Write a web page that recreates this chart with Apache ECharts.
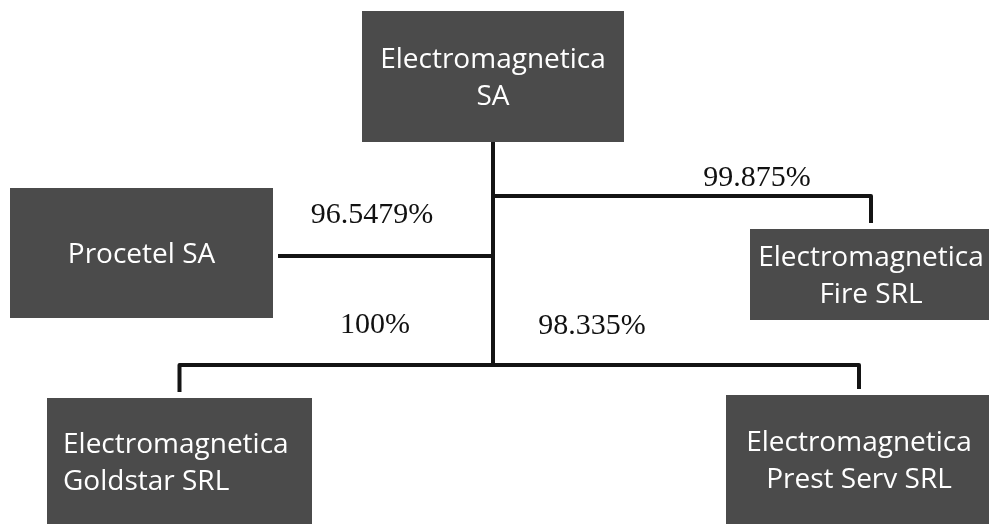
<!DOCTYPE html>
<html>
<head>
<meta charset="utf-8">
<script src="https://cdn.jsdelivr.net/npm/echarts@6/dist/echarts.min.js"></script>
<style>
    html, body { margin: 0; padding: 0; background: #fff; }
    #chart { width: 989px; height: 524px; }
</style>
</head>
<body>
<div id="chart"></div>
<script>
// companies of the group (box labels)
const companies = ['Electromagnetica\nSA', 'Procetel SA', 'Electromagnetica\nFire SRL',
    'Electromagnetica\nGoldstar SRL', 'Electromagnetica\nPrest Serv SRL'];
// parent of each company, -1 for the top one
const parents = [-1, 0, 0, 0, 0];
// holding of the parent in each company
const stakes = [null, '96.5479%', '99.875%', '100%', '98.335%'];

// layout, in chart units (1 unit = 1px)
const boxLeft = [362, 10, 750, 47, 726];
const boxTop = [11, 188, 229, 398, 395];
const boxWidth = [262, 263, 242, 265, 266];
const boxHeight = [131, 130, 91, 127, 130];
const textAlign = ['center', 'center', 'center', 'left', 'center'];
const branchY = [null, null, 196, 365, 365];   // null = joins the trunk from the side
const stakeX = [null, 372, 757, 375, 592];
const stakeY = [null, 215, 178, 325, 326];

window.onload = function () {
    const chart = echarts.init(document.getElementById('chart'));

    const boxes = companies.map(function (name, i) {
        return [boxLeft[i], boxTop[i], boxWidth[i], boxHeight[i], i];
    });

    // connectors: trunk down from the parent, then one branch for each child
    const links = [];
    let trunkEnd = 0;
    companies.forEach(function (name, i) {
        const p = parents[i];
        if (p < 0) return;
        const trunkX = boxLeft[p] + boxWidth[p] / 2;
        const cx = boxLeft[i] + boxWidth[i] / 2;
        if (branchY[i] === null) {
            const cy = boxTop[i] + boxHeight[i] / 2 + 3;
            const fromX = cx < trunkX ? boxLeft[i] + boxWidth[i] + 5 : boxLeft[i] - 5;
            links.push([[fromX, cy], [trunkX, cy]]);
            trunkEnd = Math.max(trunkEnd, cy);
        } else {
            links.push([[trunkX, branchY[i]], [cx, branchY[i]], [cx, boxTop[i] - 6]]);
            trunkEnd = Math.max(trunkEnd, branchY[i]);
        }
    });
    links.unshift([[boxLeft[0] + boxWidth[0] / 2, boxTop[0] + boxHeight[0]],
        [boxLeft[0] + boxWidth[0] / 2, trunkEnd]]);

    const stakeData = [];
    stakes.forEach(function (s, i) {
        if (s) stakeData.push([stakeX[i], stakeY[i], s]);
    });

    const option = {
        animation: false,
        backgroundColor: '#ffffff',
        grid: { left: 0, right: 0, top: 0, bottom: 0 },
        xAxis: { type: 'value', min: 0, max: 989, show: false },
        yAxis: { type: 'value', min: 0, max: 524, inverse: true, show: false },
        series: [
            {
                type: 'custom',
                data: links.map(function (pts, k) { return [k]; }),
                renderItem: function (params, api) {
                    const pts = links[api.value(0)].map(function (p) { return api.coord(p); });
                    return {
                        type: 'polyline',
                        shape: { points: pts },
                        style: { stroke: '#141414', lineWidth: 4, fill: null, lineJoin: 'round' }
                    };
                },
                z: 1
            },
            {
                type: 'custom',
                data: boxes,
                renderItem: function (params, api) {
                    const p = api.coord([api.value(0), api.value(1)]);
                    const s = api.size([api.value(2), api.value(3)]);
                    const i = api.value(4);
                    const left = textAlign[i] === 'left';
                    return {
                        type: 'group',
                        children: [
                            {
                                type: 'rect',
                                shape: { x: p[0], y: p[1], width: s[0], height: s[1] },
                                style: { fill: '#4b4b4b' }
                            },
                            {
                                type: 'text',
                                style: {
                                    x: left ? p[0] + 16 : p[0] + s[0] / 2,
                                    y: p[1] + s[1] / 2 + 2,
                                    text: companies[i],
                                    fill: '#ffffff',
                                    font: '28px "Open Sans", sans-serif',
                                    align: textAlign[i],
                                    verticalAlign: 'middle',
                                    lineHeight: 37
                                }
                            }
                        ]
                    };
                },
                z: 2
            },
            {
                type: 'custom',
                data: stakeData,
                renderItem: function (params, api) {
                    const p = api.coord([api.value(0), api.value(1)]);
                    return {
                        type: 'text',
                        style: {
                            x: p[0],
                            y: p[1],
                            text: stakeData[params.dataIndex][2],
                            fill: '#111111',
                            font: '30px "Liberation Serif", "Times New Roman", serif',
                            align: 'center',
                            verticalAlign: 'middle'
                        }
                    };
                },
                z: 3
            }
        ]
    };
    chart.setOption(option);
};
</script>
</body>
</html>
